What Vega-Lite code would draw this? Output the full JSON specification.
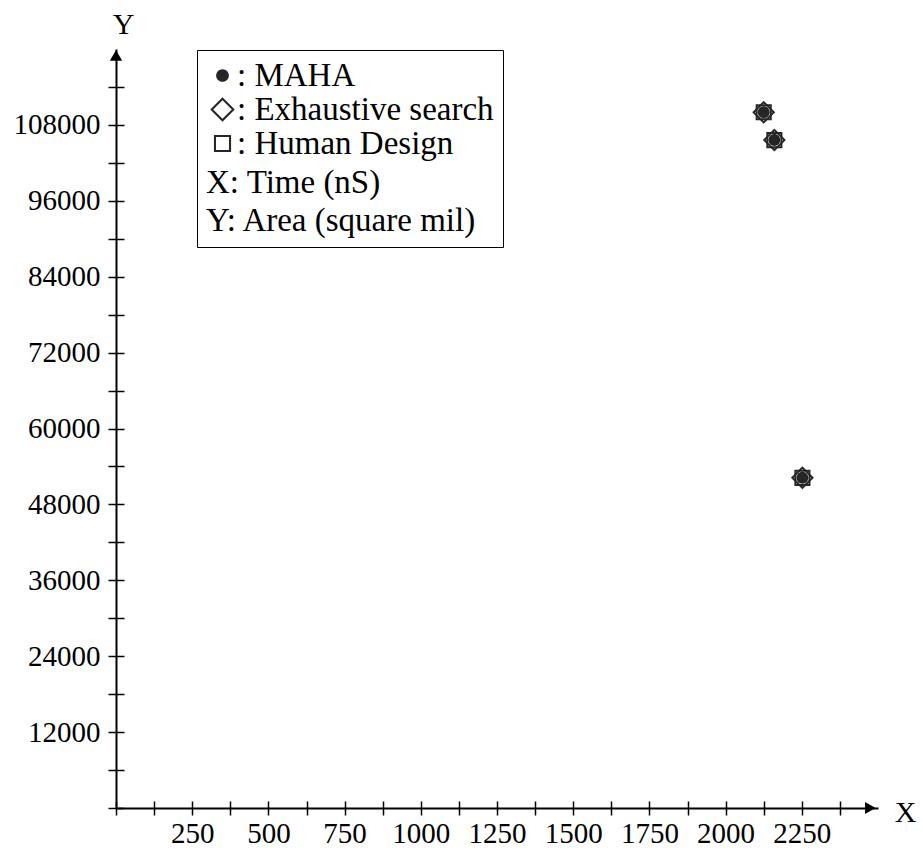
{
  "$schema": "https://vega.github.io/schema/vega-lite/v6.json",
  "autosize": {"type": "none"},
  "width": 762,
  "height": 759,
  "padding": {"left": 116, "top": 49, "right": 45, "bottom": 48},
  "background": "white",
  "config": {
    "view": {"stroke": null},
    "font": "Liberation Serif",
    "axis": {
      "domainColor": "black", "tickColor": "black", "labelColor": "black", "titleColor": "black",
      "labelFont": "Liberation Serif", "titleFont": "Liberation Serif", "grid": false,
      "titleFontWeight": "normal", "labelFlush": false, "labelOverlap": false, "labelBound": false
    }
  },
  "datasets": {
    "points": [
      {"time": 2125, "area": 110000, "method": "MAHA"},
      {"time": 2125, "area": 110000, "method": "Exhaustive search"},
      {"time": 2125, "area": 110000, "method": "Human Design"},
      {"time": 2160, "area": 105600, "method": "MAHA"},
      {"time": 2160, "area": 105600, "method": "Exhaustive search"},
      {"time": 2160, "area": 105600, "method": "Human Design"},
      {"time": 2252, "area": 52200, "method": "MAHA"},
      {"time": 2252, "area": 52200, "method": "Exhaustive search"},
      {"time": 2252, "area": 52200, "method": "Human Design"}
    ],
    "arrows": [
      {"dir": "x", "ax": 2475, "ay": 0},
      {"dir": "y", "ax": 0, "ay": 119000}
    ]
  },
  "layer": [
    {
      "data": {"name": "points"},
      "mark": {"type": "point", "filled": true, "color": "#262626", "strokeWidth": 0, "opacity": 1, "size": 529},
      "encoding": {
        "x": {
          "field": "time", "type": "quantitative",
          "scale": {"domain": [0, 2500], "nice": false, "zero": false},
          "axis": {
            "orient": "bottom",
            "values": [0,125,250,375,500,625,750,875,1000,1125,1250,1375,1500,1625,1750,1875,2000,2125,2250,2375],
            "labelExpr": "datum.value % 250 === 0 && datum.value > 0 ? '' + datum.value : ''",
            "domainWidth": 2, "tickWidth": 1.5, "tickSize": 7,
            "labelFontSize": 29, "labelPadding": 4,
            "title": "X", "titleFontSize": 30, "titleAngle": 0,
            "titleX": 789, "titleY": 4, "titleAlign": "center", "titleBaseline": "middle"
          }
        },
        "y": {
          "field": "area", "type": "quantitative",
          "scale": {"domain": [0, 120000], "nice": false, "zero": false},
          "axis": {
            "orient": "left",
            "values": [0,6000,12000,18000,24000,30000,36000,42000,48000,54000,60000,66000,72000,78000,84000,90000,96000,102000,108000,114000],
            "labelExpr": "datum.value % 12000 === 0 && datum.value > 0 ? '' + datum.value : ''",
            "domainWidth": 2, "tickWidth": 1.5, "tickSize": 8,
            "labelFontSize": 29, "labelPadding": 8, "labelBaseline": "middle",
            "title": "Y", "titleFontSize": 30, "titleAngle": 0,
            "titleX": 7, "titleY": -16, "titleAlign": "center", "titleBaseline": "alphabetic"
          }
        },
        "shape": {
          "field": "method", "type": "nominal",
          "scale": {
            "domain": ["MAHA", "Exhaustive search", "Human Design"],
            "range": [
              "M0.52,0A0.52,0.52,0,1,1,-0.52,0A0.52,0.52,0,1,1,0.52,0Z",
              "M0,-1L1,0L0,1L-1,0ZM0,-0.76L-0.76,0L0,0.76L0.76,0Z",
              "M-0.7,-0.7L0.7,-0.7L0.7,0.7L-0.7,0.7ZM-0.53,-0.53L-0.53,0.53L0.53,0.53L0.53,-0.53Z"
            ]
          },
          "legend": {
            "orient": "none", "legendX": 81, "legendY": 1,
            "title": ["X: Time (nS)", "Y: Area (square mil)"],
            "titleOrient": "bottom", "titleAnchor": "start", "titleFont": "Liberation Serif", "titleFontSize": 33,
            "titleFontWeight": "normal", "titleLineHeight": 38, "titlePadding": 6, "titleColor": "black", "titleLimit": 500,
            "labelFont": "Liberation Serif", "labelFontSize": 33, "labelColor": "black", "labelLimit": 500,
            "labelExpr": "': ' + datum.label", "labelOffset": -2,
            "strokeColor": "black", "padding": 9, "rowPadding": 0,
            "symbolSize": 600, "symbolFillColor": "#262626", "symbolStrokeWidth": 0
          }
        }
      }
    },
    {
      "data": {"name": "arrows"},
      "mark": {"type": "point", "filled": true, "color": "black", "opacity": 1},
      "encoding": {
        "x": {
          "field": "ax", "type": "quantitative",
          "axis": {
            "orient": "top", "offset": -759,
            "values": [0,125,250,375,500,625,750,875,1000,1125,1250,1375,1500,1625,1750,1875,2000,2125,2250,2375],
            "labels": false, "domain": false, "tickWidth": 1.5, "tickSize": 7, "title": null
          }
        },
        "y": {
          "field": "ay", "type": "quantitative",
          "axis": {
            "orient": "right", "offset": -762,
            "values": [0,6000,12000,18000,24000,30000,36000,42000,48000,54000,60000,66000,72000,78000,84000,90000,96000,102000,108000,114000],
            "labels": false, "domain": false, "tickWidth": 1.5, "tickSize": 8, "title": null
          }
        },
        "shape": {
          "field": "dir", "type": "nominal",
          "scale": {"domain": ["x", "y"], "range": ["triangle-right", "triangle-up"]},
          "legend": null
        },
        "size": {"value": 150}
      }
    }
  ],
  "resolve": {
    "axis": {"x": "independent", "y": "independent"},
    "scale": {"shape": "independent"}
  }
}
